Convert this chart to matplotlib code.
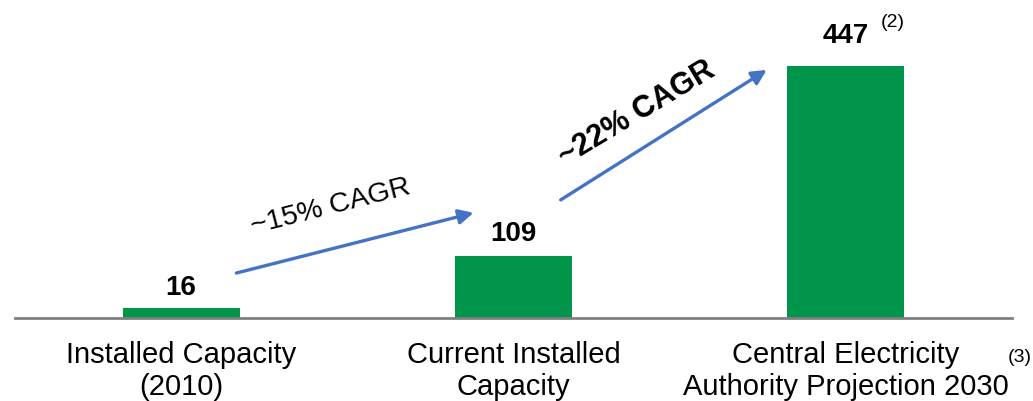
import matplotlib
matplotlib.use("Agg")
import matplotlib.pyplot as plt

# chart data
categories = ["Installed Capacity\n(2010)", "Current Installed\nCapacity",
              "Central Electricity\nAuthority Projection 2030"]
capacity = [16, 109, 447]
value_labels = ["16", "109", "447"]
cagr_labels = ["~15% CAGR", "~22% CAGR"]

GREEN = "#00954A"
BLUE = "#4472C4"

plt.rcParams["font.family"] = ["Liberation Sans", "DejaVu Sans"]

fig = plt.figure(figsize=(10.33, 4.02), dpi=100)
ax = fig.add_axes([15 / 1033, 83.5 / 402, 997 / 1033, 318.5 / 402])

x = list(range(len(categories)))
ax.bar(x, capacity, width=0.352, color=GREEN, zorder=2)
ax.set_xlim(-0.5, 2.5)
ax.set_ylim(0, 566)

# value labels above the bars
label_offsets = [14, 16, 24]
for xi, v, lab, off in zip(x, capacity, value_labels, label_offsets):
    ax.annotate(lab, (xi, v), xytext=(0, off), textcoords="offset pixels",
                ha="center", va="baseline", fontsize=20, fontweight="bold")
ax.annotate("(2)", (x[2], capacity[2]), xytext=(47, 44), textcoords="offset pixels",
            ha="center", va="center", fontsize=14)

# growth arrows
ax.annotate("", xy=(0.88, 186), xytext=(0.166, 79),
            arrowprops=dict(arrowstyle="-|>", color=BLUE, lw=2.4,
                            mutation_scale=22, shrinkA=0, shrinkB=0))
ax.annotate("", xy=(1.762, 440), xytext=(1.142, 209),
            arrowprops=dict(arrowstyle="-|>", color=BLUE, lw=2.4,
                            mutation_scale=22, shrinkA=0, shrinkB=0))
ax.text(0.449, 198, cagr_labels[0], rotation=14.3, rotation_mode="anchor",
        ha="center", va="center", fontsize=20.5)
ax.text(1.37, 365, cagr_labels[1], rotation=31, rotation_mode="anchor",
        ha="center", va="center", fontsize=22, fontweight="bold")

# axes styling: only a grey baseline
for side in ["left", "right", "top"]:
    ax.spines[side].set_visible(False)
ax.spines["bottom"].set_color("#808080")
ax.spines["bottom"].set_linewidth(2)
ax.set_yticks([])
ax.set_xticks(x)
ax.set_xticklabels(categories, fontsize=21, linespacing=1.2)
ax.tick_params(axis="x", length=0, pad=16)

fig.text(1020 / 1033, 1 - 358 / 402, "(3)", ha="center", va="center", fontsize=14)

fig.savefig("out.png", dpi=100)
